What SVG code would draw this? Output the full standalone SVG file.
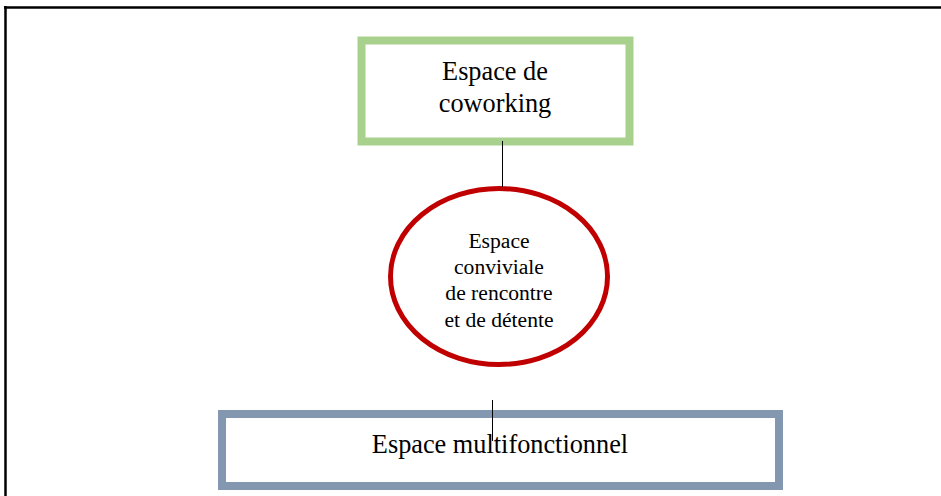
<svg xmlns="http://www.w3.org/2000/svg" width="941" height="496" viewBox="0 0 941 496">
<style>
.t{font-family:"Liberation Serif","Times New Roman",serif;fill:#000;text-anchor:middle}
.big{font-size:26.3px}
.small{font-size:21.6px}
.conn{stroke:#000;stroke-width:1;fill:none}
</style>
<rect x="0" y="0" width="941" height="496" fill="#fff"/>
<g id="frame">
<line x1="4" y1="7.5" x2="941" y2="7.5" stroke="#000" stroke-width="2.5"/>
<line x1="5.5" y1="6" x2="5.5" y2="496" stroke="#000" stroke-width="2.5"/>
</g>
<g id="coworking">
<rect x="361.5" y="40.5" width="268" height="101" fill="none" stroke="#A9D18E" stroke-width="8"/>
<text class="t big" x="495" y="80">Espace de</text>
<text class="t big" x="495" y="112">coworking</text>
</g>
<g id="conviviale">
<ellipse cx="499" cy="276.5" rx="108.5" ry="88" fill="#fff" stroke="#C00000" stroke-width="5"/>
<text class="t small" x="499" y="248">Espace</text>
<text class="t small" x="499" y="274">conviviale</text>
<text class="t small" x="499" y="300">de rencontre</text>
<text class="t small" x="499" y="327">et de détente</text>
</g>
<g id="multifonctionnel">
<rect x="222" y="414" width="557" height="72" fill="none" stroke="#8497B0" stroke-width="8"/>
<text class="t big" x="500" y="453">Espace multifonctionnel</text>
</g>
<g id="connectors">
<line class="conn" x1="502.5" y1="141" x2="502.5" y2="187"/>
<line class="conn" x1="492.5" y1="400" x2="492.5" y2="441"/>
</g>
</svg>
